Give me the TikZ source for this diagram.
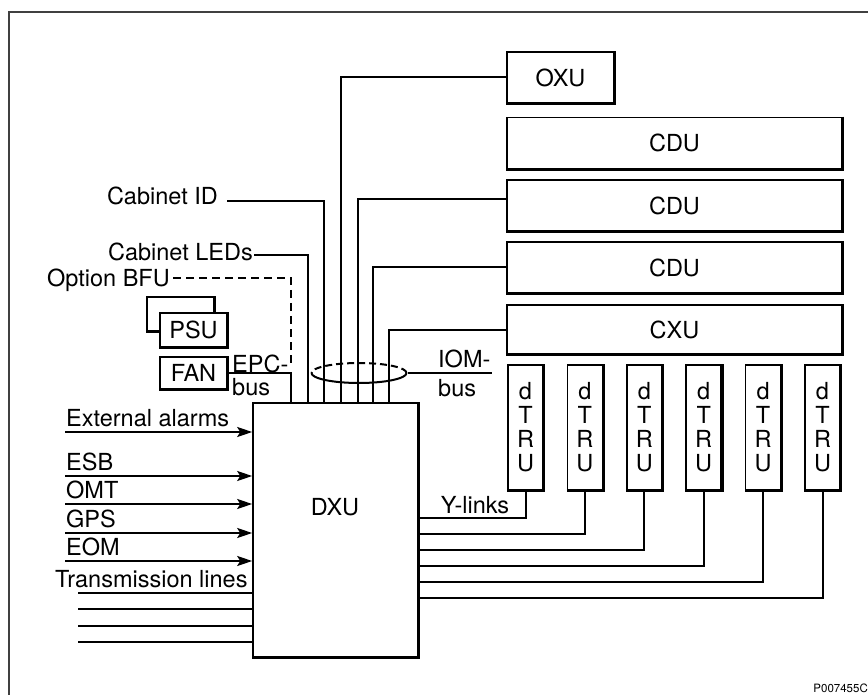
\documentclass[tikz,border=0pt]{standalone}
\usepackage{fontspec}
\setmainfont{TeX Gyre Heros}
\usepackage{tikz}
\usetikzlibrary{arrows.meta, calc}

\tikzset{
  unit/.style={draw, fill=white, line width=1.6pt, inner sep=0pt},
  wire/.style={line width=2pt},
  feed/.style={wire, -{Stealth[length=15pt, width=10pt, inset=3pt]}},
  lbl/.style={inner sep=0pt},
}

\begin{document}
\begin{tikzpicture}[x=1pt, y=-1pt, font=\fontsize{23.5}{24}\selectfont]
    \useasboundingbox (0,0) rectangle (868,695);
    % frame
    \draw[line width=1.5pt, black!75] (9,695) -- (9,12) -- (868,12);

    % units on the right
    \node[unit, minimum width=107, minimum height=51] (oxu) at (560.5,77.5) {OXU};
    \foreach \n/\y in {cdua/143, cdub/205.5, cduc/267.5}
        \node[unit, minimum width=335, minimum height=51] (\n) at (674.5,\y) {CDU};
    \node[unit, minimum width=335, minimum height=49] (cxu) at (674.5,329.5) {CXU};
    \foreach \i in {1,...,6}
        \node[unit, minimum width=35, minimum height=125, align=center] (tru\i) at ({525.5+59.4*(\i-1)},427.5) {d\\T\\R\\U};

    % DXU and the small units
    \node[unit, minimum width=165, minimum height=254] (dxu) at (335.5,530) {};
    \node[lbl] (dxutext) at (335,507) {DXU};
    \node[unit, minimum width=67, minimum height=34] (psuback) at (180.5,314) {};
    \draw[line width=3pt] (psuback.north east) -- (psuback.south east) -- (psuback.south west);
    \node[unit, minimum width=67, minimum height=34] (psu) at (193.5,330) {PSU};
    \node[unit, minimum width=67, minimum height=32] (fan) at (193.5,373) {FAN};

    % heavier right and bottom edges
    \foreach \n in {oxu, cdua, cdub, cduc, cxu, dxu, psu, fan, tru1, tru2, tru3, tru4, tru5, tru6}
        \draw[line width=3pt] (\n.north east) -- (\n.south east) -- (\n.south west);

    % taps on top of DXU
    \foreach \n/\x in {epc/291, led/308, cid/324, oxu/341, cdb/358, cdc/373, cxu/389}
        \coordinate (tap\n) at (\x,403);

    \draw[wire] (oxu.west) -| (tapoxu);
    \draw[wire] ([yshift=6pt]cdub.west) -| (tapcdb);
    \draw[wire] (cduc.west) -| (tapcdc);
    \draw[wire] (cxu.west) -| (tapcxu);

    \node[lbl, anchor=base east] (cabid) at (218,205) {Cabinet ID};
    \node[lbl, anchor=base east] (leds) at (253,261) {Cabinet LEDs};
    \node[lbl, anchor=base east] (bfu) at (170,287) {Option BFU};
    \coordinate (bfuend) at (291,365);
    \draw[wire] ($(cabid.base east)+(9,-4)$) -| (tapcid);
    \draw[wire] ($(leds.base east)+(1,-6)$) -| (tapled);
    \draw[line width=1.2pt, dash pattern=on 8pt off 5pt] ($(bfu.base east)+(3,-9)$) -| (bfuend);
    \draw[wire] (fan.east) -| (tapepc);
    \node[lbl, anchor=base west] (epctop) at (232,372) {EPC-};
    \node[lbl, anchor=base west] (epcbot) at (232,395) {bus};

    % IOM bus ring
    \coordinate (busring) at (359,373);
    \coordinate (iomend) at (492,373);
    \draw[wire] ($(busring)+(-47.5,0)$) arc[start angle=180, end angle=360, x radius=47.5pt, y radius=10pt];
    \draw[wire, dash pattern=on 7pt off 4pt] ($(busring)+(47.5,0)$) arc[start angle=0, end angle=180, x radius=47.5pt, y radius=10pt];
    \draw[wire] ($(busring)+(49,0)$) -- (iomend);
    \node[lbl, anchor=base west] (iomtop) at (438,367) {IOM-};
    \node[lbl, anchor=base west] (iombot) at (438,396) {bus};

    % Y-links
    \foreach \i in {1,...,6}
        \draw[wire] (tru\i.south) |- ($(dxu.north east)+(0,{116+16*(\i-1)})$);
    \node[lbl, anchor=base] (ylinks) at (475,513) {Y-links};

    % inputs on the left
    \foreach \n/\y/\t in {ext/432/External alarms, esb/476/ESB, omt/504/OMT, gps/533/GPS, eom/561/EOM} {
        \coordinate (in\n) at (65,\y);
        \node[lbl, anchor=base west] (\n) at ($(in\n)+(1,-6)$) {\t};
        \draw[feed] (in\n) -- (in\n -| dxu.west);
    }
    \node[lbl, anchor=base west] (trans) at (55,587) {Transmission lines};
    \foreach \y [count=\i] in {593, 609, 626, 642} {
        \coordinate (tx\i) at (78,\y);
        \draw[wire] (tx\i) -- (tx\i -| dxu.west);
    }

    \node[lbl, anchor=base east, font=\fontsize{11.5}{12}\selectfont] (figid) at (868,692) {P007455C};
\end{tikzpicture}
\end{document}
